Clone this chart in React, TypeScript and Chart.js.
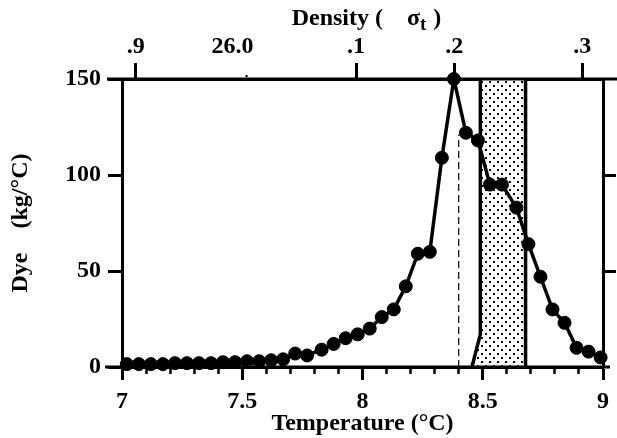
import React, { useEffect, useRef } from 'react';
import { Chart, registerables } from 'chart.js';

Chart.register(...registerables);

// Main series: dye per degree vs temperature
const temperature = [7.02, 7.07, 7.12, 7.17, 7.22, 7.27, 7.32, 7.37, 7.42, 7.47, 7.52, 7.57, 7.62, 7.67, 7.72, 7.77, 7.83, 7.88, 7.93, 7.98, 8.03, 8.08, 8.13, 8.18, 8.23, 8.28, 8.33, 8.38, 8.43, 8.48, 8.53, 8.58, 8.64, 8.69, 8.74, 8.79, 8.84, 8.89, 8.94, 8.99];
const dye = [1.5, 1.5, 1.5, 1.5, 2, 2, 2, 2, 2.5, 2.5, 3, 3, 3.5, 4, 7, 6, 9, 12, 15, 17, 20, 26, 30, 42, 59, 60, 109, 150, 122, 118, 95, 95, 83, 64, 47, 30, 23, 10, 8, 5];

// Shaded band boundaries
const shadeLeftX = [8.455, 8.49, 8.49];
const shadeLeftY = [0, 17, 150];
const shadeRightX = [8.678, 8.678];
const shadeRightY = [0, 150];

// Dashed marker
const dashX = [8.4, 8.4];
const dashY = [0, 121];

// Bottom axis ticks
const tempMajorTicks = [7, 7.5, 8, 8.5, 9];
const tempMajorLabels = ['7', '7.5', '8', '8.5', '9'];
const tempMinorTicks = [7.1, 7.2, 7.3, 7.4, 7.6, 7.7, 7.8, 7.9, 8.1, 8.2, 8.3, 8.4, 8.6, 8.7, 8.8, 8.9];

// Top density axis (positions in temperature units)
const densityTickPos = [7.057, 7.459, 7.973, 8.382, 8.914];
const densityLabels = ['.9', '26.0', '.1', '.2', '.3'];
const densityDotPos = 7.518;

const dyeTicks = [0, 50, 100, 150];
const rightTicks = [50, 100];

const FONT = "'Liberation Serif', 'Times New Roman', serif";

const pts = (xs: number[], ys: number[]) => xs.map((x, i) => ({ x, y: ys[i] }));

export default function App() {
  const ref = useRef<HTMLCanvasElement | null>(null);

  useEffect(() => {
    const canvas = ref.current;
    if (!canvas) return;

    // dotted pattern
    const pc = document.createElement('canvas');
    pc.width = 8;
    pc.height = 8;
    const pctx = pc.getContext('2d')!;
    pctx.fillStyle = '#fff';
    pctx.fillRect(0, 0, 8, 8);
    pctx.fillStyle = '#000';
    pctx.fillRect(1, 1, 2, 2);
    pctx.fillRect(5, 5, 2, 2);
    const ctx0 = canvas.getContext('2d')!;
    const pattern = ctx0.createPattern(pc, 'repeat');

    const decor = {
      id: 'decor',
      beforeDatasetsDraw(chart: any) {
        const { ctx, scales } = chart;
        const xs = scales.x;
        const ys = scales.y;
        ctx.save();
        ctx.beginPath();
        shadeLeftX.forEach((x, i) => {
          const px = xs.getPixelForValue(x);
          const py = ys.getPixelForValue(shadeLeftY[i]);
          if (i === 0) ctx.moveTo(px, py);
          else ctx.lineTo(px, py);
        });
        for (let i = shadeRightX.length - 1; i >= 0; i--) {
          ctx.lineTo(xs.getPixelForValue(shadeRightX[i]), ys.getPixelForValue(shadeRightY[i]));
        }
        ctx.closePath();
        ctx.fillStyle = pattern;
        ctx.fill();
        ctx.restore();
      },
      afterDraw(chart: any) {
        const { ctx, chartArea, scales, width } = chart;
        ctx.save();
        ctx.strokeStyle = '#000';
        ctx.lineWidth = 3;
        ctx.beginPath();
        ctx.moveTo(chartArea.left - 15, chartArea.top);
        ctx.lineTo(width, chartArea.top);
        ctx.moveTo(chartArea.left - 17, chartArea.bottom);
        ctx.lineTo(chartArea.right + 7, chartArea.bottom);
        ctx.stroke();
        // small dot tick for 26.0
        const dx = scales.x2.getPixelForValue(densityDotPos);
        ctx.fillStyle = '#000';
        ctx.fillRect(dx - 1, chartArea.top - 4, 2, 2);

        // Top title with subscript
        const cx = (chartArea.left + chartArea.right) / 2 + 4;
        const base = 25;
        const big = `bold 24px ${FONT}`;
        const small = `bold 19px ${FONT}`;
        const p1 = 'Density (';
        const gap1 = 24;
        const p2 = 'σ';
        const p3 = 't';
        const gap2 = 7;
        const p4 = ')';
        ctx.font = big;
        const w1 = ctx.measureText(p1).width;
        const w2 = ctx.measureText(p2).width;
        const w4 = ctx.measureText(p4).width;
        ctx.font = small;
        const w3 = ctx.measureText(p3).width;
        const total = w1 + gap1 + w2 + w3 + gap2 + w4;
        let x = cx - total / 2;
        ctx.textBaseline = 'alphabetic';
        ctx.textAlign = 'left';
        ctx.font = big;
        ctx.fillText(p1, x, base);
        x += w1 + gap1;
        ctx.fillText(p2, x, base);
        x += w2;
        ctx.font = small;
        ctx.fillText(p3, x, base + 5);
        x += w3 + gap2;
        ctx.font = big;
        ctx.fillText(p4, x, base);
        ctx.restore();
      },
    };

    const chart = new Chart(canvas, {
      type: 'scatter',
      data: {
        datasets: [
          {
            data: pts(temperature, dye),
            showLine: true,
            borderColor: '#000',
            backgroundColor: '#000',
            borderWidth: 3.5,
            pointRadius: 6.5,
            pointBorderWidth: 1,
            pointBackgroundColor: '#000',
            pointBorderColor: '#000',
            clip: false,
            order: 0,
          },
          {
            data: pts(shadeLeftX, shadeLeftY),
            showLine: true,
            borderColor: '#000',
            borderWidth: 3.5,
            pointRadius: 0,
            order: 1,
          },
          {
            data: pts(shadeRightX, shadeRightY),
            showLine: true,
            borderColor: '#000',
            borderWidth: 3.5,
            pointRadius: 0,
            order: 1,
          },
          {
            data: pts(dashX, dashY),
            showLine: true,
            borderColor: '#000',
            borderWidth: 1.2,
            borderDash: [7, 4],
            pointRadius: 0,
            order: 2,
          },
        ],
      },
      options: {
        animation: false,
        responsive: true,
        maintainAspectRatio: false,
        layout: { padding: 0 },
        plugins: { legend: { display: false }, tooltip: { enabled: false } },
        scales: {
          x: {
            type: 'linear',
            position: 'bottom',
            min: 7,
            max: 9,
            afterBuildTicks: (s: any) => { s.ticks = tempMajorTicks.map((v) => ({ value: v })); },
            afterFit: (s: any) => { s.height = 71; },
            ticks: {
              padding: 7,
              color: '#000',
              font: { family: FONT, size: 24, weight: 'bold' },
              maxRotation: 0,
              autoSkip: false,
              callback: (_v: any, i: number) => tempMajorLabels[i],
            },
            grid: { drawOnChartArea: false, tickLength: 13, tickWidth: 3, tickColor: '#000' },
            border: { display: true, color: '#000', width: 3 },
            title: {
              display: true,
              text: 'Temperature (°C)',
              color: '#000',
              font: { family: FONT, size: 24, weight: 'bold' },
              padding: { top: 0, bottom: 0 },
            },
          },
          xMinor: {
            type: 'linear',
            position: 'bottom',
            weight: -1,
            min: 7,
            max: 9,
            afterBuildTicks: (s: any) => { s.ticks = tempMinorTicks.map((v) => ({ value: v })); },
            afterFit: (s: any) => { s.height = 0; },
            ticks: { display: false },
            grid: { drawOnChartArea: false, tickLength: 7, tickWidth: 2.5, tickColor: '#000' },
            border: { display: false },
          },
          x2: {
            type: 'linear',
            position: 'top',
            min: 7,
            max: 9,
            afterBuildTicks: (s: any) => { s.ticks = densityTickPos.map((v) => ({ value: v })); },
            afterFit: (s: any) => { s.height = 79; },
            ticks: {
              padding: 2,
              color: '#000',
              font: { family: FONT, size: 24, weight: 'bold' },
              maxRotation: 0,
              autoSkip: false,
              callback: (_v: any, i: number) => densityLabels[i],
            },
            grid: {
              drawOnChartArea: false,
              tickLength: 16,
              tickWidth: 3,
              tickColor: (c: any) => (c.index === 1 ? 'rgba(0,0,0,0)' : '#000'),
            },
            border: { display: true, color: '#000', width: 3 },
          },
          y: {
            type: 'linear',
            position: 'left',
            min: 0,
            max: 150,
            afterBuildTicks: (s: any) => { s.ticks = dyeTicks.map((v) => ({ value: v })); },
            afterFit: (s: any) => { s.width = 122; },
            ticks: {
              padding: 7,
              color: '#000',
              font: { family: FONT, size: 24, weight: 'bold' },
            },
            grid: { drawOnChartArea: false, tickLength: 14, tickWidth: 3, tickColor: '#000' },
            border: { display: true, color: '#000', width: 3 },
            title: {
              display: true,
              text: 'Dye    (kg/°C)',
              color: '#000',
              font: { family: FONT, size: 24, weight: 'bold' },
              padding: { top: 6, bottom: 0 },
            },
          },
          y2: {
            type: 'linear',
            position: 'right',
            min: 0,
            max: 150,
            afterBuildTicks: (s: any) => { s.ticks = rightTicks.map((v) => ({ value: v })); },
            afterFit: (s: any) => { s.width = 14; },
            ticks: { display: false },
            grid: { drawOnChartArea: false, tickLength: 13, tickWidth: 3, tickColor: '#000' },
            border: { display: true, color: '#000', width: 3 },
          },
        },
      },
      plugins: [decor],
    } as any);

    return () => chart.destroy();
  }, []);

  return (
    <div style={{ position: 'absolute', left: 0, top: 0, width: 617, height: 438, background: '#fff' }}>
      <canvas ref={ref} />
    </div>
  );
}
